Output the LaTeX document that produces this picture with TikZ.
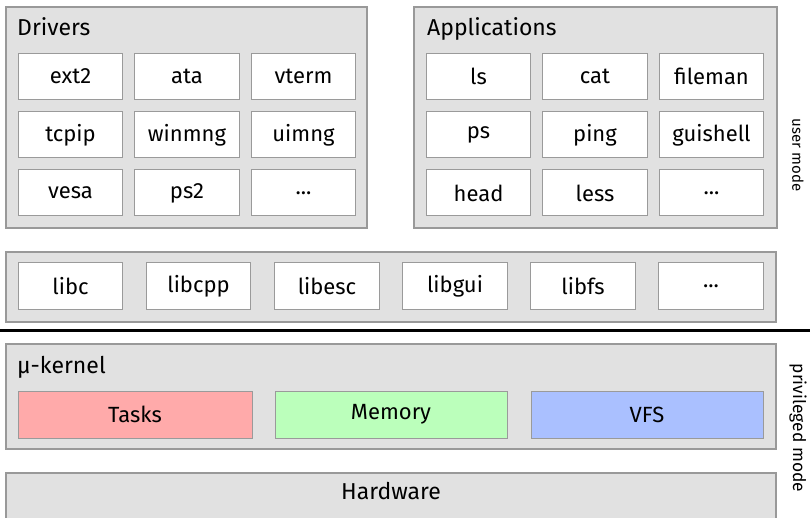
\documentclass[tikz,border=0pt]{standalone}
\usepackage{fontspec}
\setmainfont{Fira Sans}
\definecolor{layerfill}{HTML}{E1E1E1}
\definecolor{layerdraw}{HTML}{999999}
\definecolor{itemdraw}{HTML}{9A9A9A}
\definecolor{taskfill}{HTML}{FFAAAA}
\definecolor{memfill}{HTML}{BBFFBB}
\definecolor{vfsfill}{HTML}{AAC0FF}
\tikzset{
  layer/.style={draw=layerdraw, fill=layerfill, line width=1.4pt, rectangle, inner sep=0pt},
  item/.style={draw=itemdraw, fill=white, line width=1pt, rectangle, inner sep=0pt,
    minimum width=104.5pt, minimum height=46pt, font=\fontsize{22}{26}\selectfont},
  wide/.style={item, minimum width=233pt, minimum height=47pt},
  title/.style={anchor=base west, inner sep=0pt, font=\fontsize{23}{27}\selectfont},
  modelabel/.style={rotate=-90, inner sep=0pt, font=\fontsize{15}{18}\selectfont},
}
\begin{document}
\begin{tikzpicture}[x=1pt,y=-1pt]
\useasboundingbox (0,0) rectangle (810,518);
\begin{scope}
\clip (0,0) rectangle (810,518);
% Drivers
\node[layer, minimum width=361pt, minimum height=221pt] (drivers) at (186.5,117.5) {};
\node[title] (driverst) at (17,36) {Drivers};
\node[item] (ext2) at (70.5,76.5) {ext2};
\node[item] (ata) at (187,76.5) {ata};
\node[item] (vterm) at (303.5,76.5) {vterm};
\node[item] (tcpip) at (70.5,135) {tcpip};
\node[item] (winmng) at (187,135) {winmng};
\node[item] (uimng) at (303.5,135) {uimng};
\node[item] (vesa) at (70.5,193) {vesa};
\node[item] (ps2) at (187,193) {ps2};
\node[item] (ddots) at (303.5,193) {...};
% Applications
\node[layer, minimum width=363pt, minimum height=221pt] (apps) at (595.5,117.5) {};
\node[title] (appst) at (427,36) {Applications};
\node[item] (ls) at (478.5,76.5) {ls};
\node[item] (cat) at (595,76.5) {cat};
\node[item] (fileman) at (711.5,76.5) {fileman};
\node[item] (ps) at (478.5,135) {ps};
\node[item] (ping) at (595,135) {ping};
\node[item] (guishell) at (711.5,135) {guishell};
\node[item] (head) at (478.5,193) {head};
\node[item] (less) at (595,193) {less};
\node[item] (adots) at (711.5,193) {...};
% libraries
\node[layer, minimum width=770pt, minimum height=70pt] (libs) at (391,287) {};
\node[item] (libc) at (70.5,286) {libc};
\node[item] (libcpp) at (198.5,286) {libcpp};
\node[item] (libesc) at (327,286) {libesc};
\node[item] (libgui) at (455,286) {libgui};
\node[item] (libfs) at (583,286) {libfs};
\node[item] (ldots) at (711,286) {...};
% separator
\coordinate (sepl) at (0,330);
\coordinate (sepr) at (810,330);
\draw[line width=3pt] (sepl) -- (sepr);
% kernel
\node[layer, minimum width=770pt, minimum height=105pt] (kernel) at (391,396.5) {};
\node[title] (kernelt) at (17,373) {µ-kernel};
\node[wide, fill=taskfill, minimum width=234pt] (tasks) at (135,414.5) {Tasks};
\node[wide, fill=memfill, minimum width=232pt] (memory) at (391,414.5) {Memory};
\node[wide, fill=vfsfill, minimum width=232pt] (vfs) at (647,414.5) {VFS};
% hardware
\node[layer, minimum width=770pt, minimum height=70pt] (hw) at (391,508) {};
\node[title, anchor=base] (hwt) at (391,499) {Hardware};
\end{scope}
% mode labels
\node[modelabel] (user) at (798,155) {user mode};
\node[modelabel, font=\fontsize{17.4}{20}\selectfont] (priv) at (798,428) {privileged mode};
\end{tikzpicture}
\end{document}
